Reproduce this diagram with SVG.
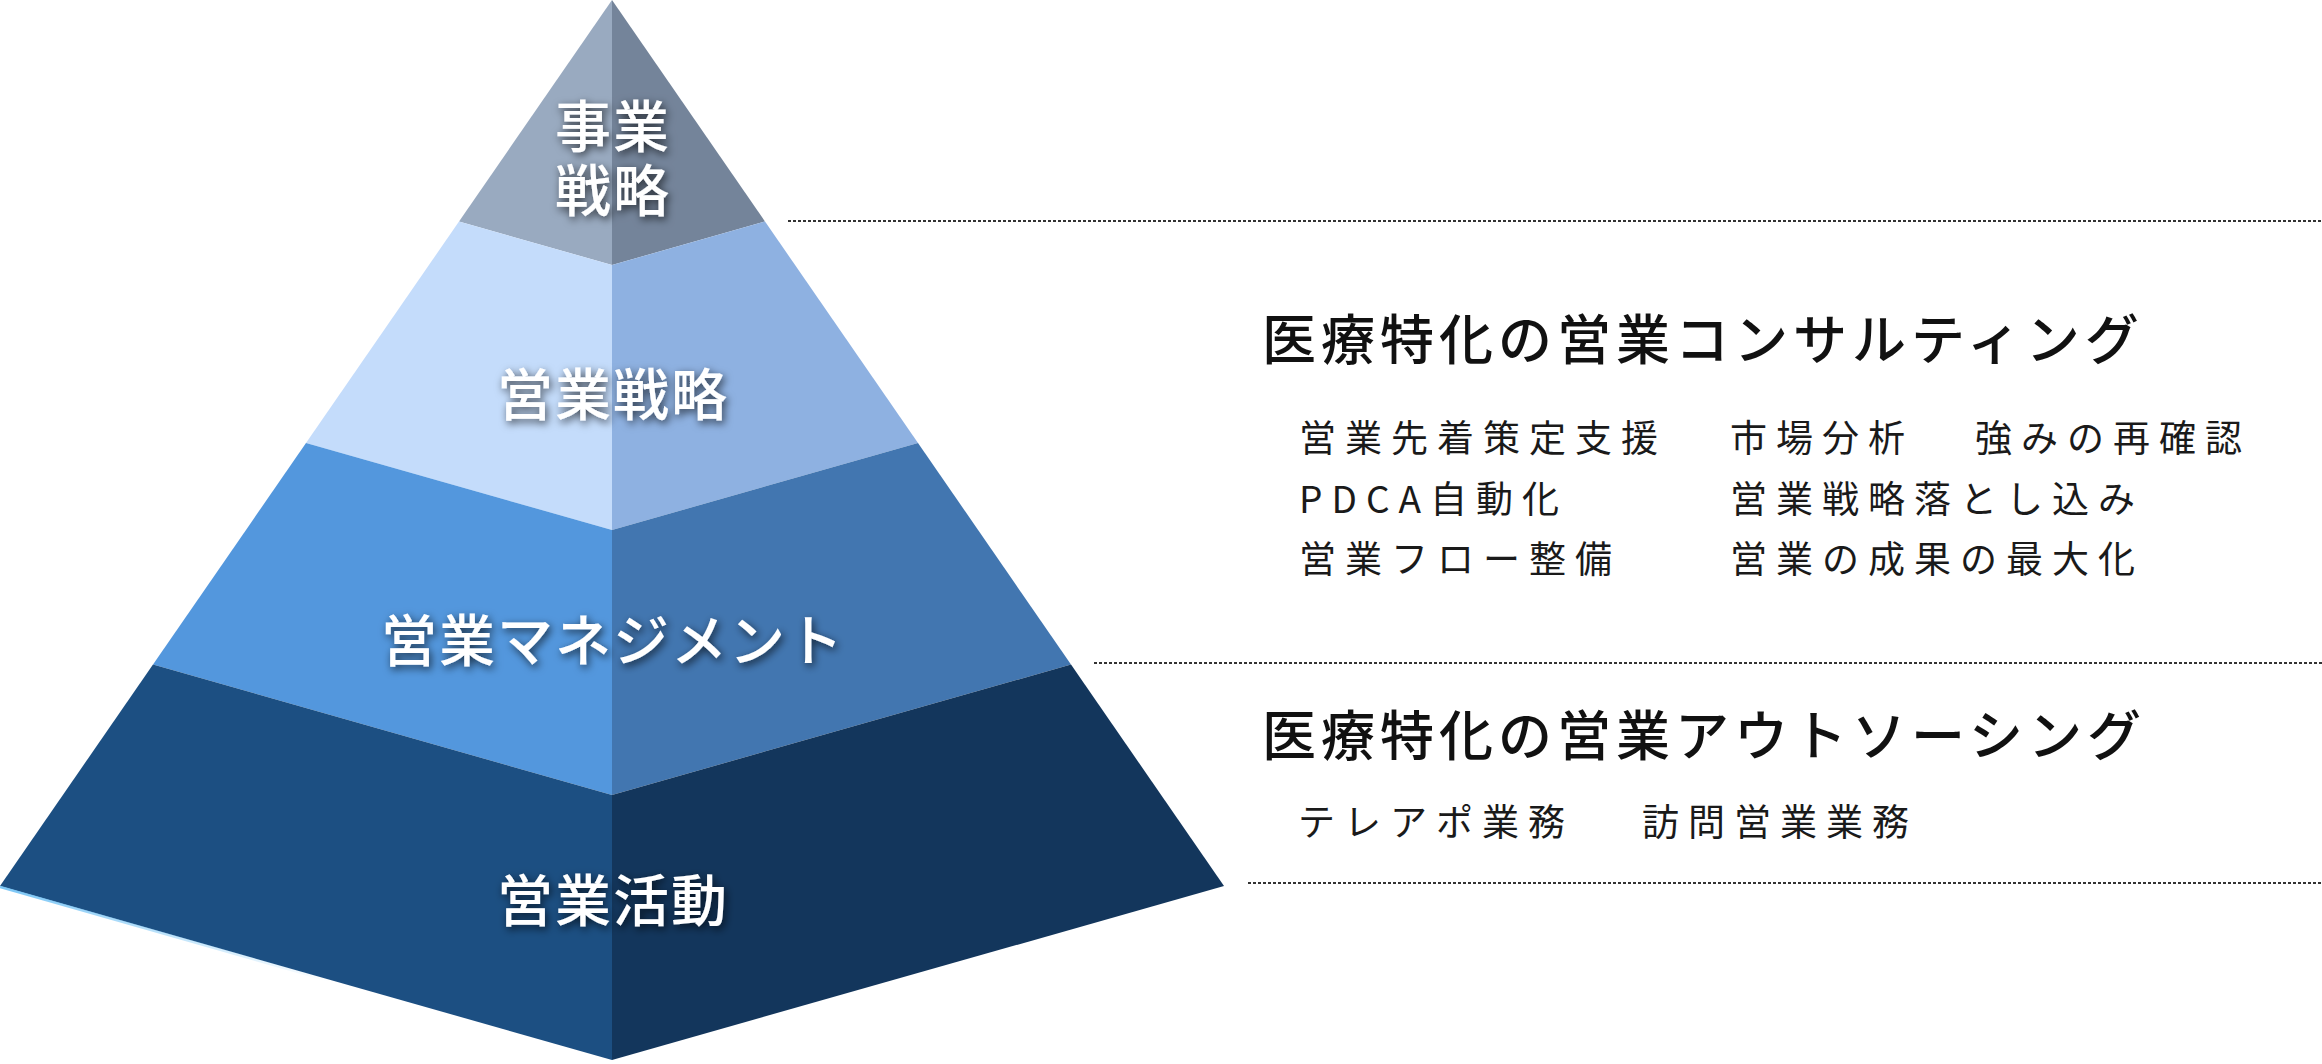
<svg xmlns="http://www.w3.org/2000/svg" width="2322" height="1064" viewBox="0 0 2322 1064">
  <defs>
    <filter id="shadow" x="-20%" y="-40%" width="140%" height="180%">
      <feDropShadow dx="2" dy="3" stdDeviation="4" flood-color="#000" flood-opacity="0.7"/>
    </filter>
    <linearGradient id="edgeGlow" x1="0" y1="0" x2="1" y2="0">
      <stop offset="0" stop-color="#6cc0f5" stop-opacity="0.9"/>
      <stop offset="1" stop-color="#6cc0f5" stop-opacity="0"/>
    </linearGradient>
  </defs>
  <style>
    .lbl { font-family: "Noto Sans CJK JP", "Noto Sans", sans-serif; font-size: 56px; font-weight: 500; fill: #ffffff; text-anchor: middle; letter-spacing: 2px; }
    .head { font-family: "Noto Sans CJK JP", "Noto Sans", sans-serif; font-size: 54px; font-weight: 500; fill: #111111; letter-spacing: 5px; }
    .item { font-family: "Noto Sans CJK JP", "Noto Sans", sans-serif; font-size: 37px; font-weight: 400; fill: #1a1a1a; letter-spacing: 9px; }
    .dot { stroke: #333333; stroke-width: 2; stroke-dasharray: 3 2; fill: none; }
  </style>
  <rect width="2322" height="1064" fill="#ffffff"/>

  <g id="tier-business-strategy">
    <polygon points="612,0 459,221.5 612,265" fill="#99AAC0"/>
    <polygon points="612,0 765,221.5 612,265" fill="#74849A"/>
    <text class="lbl" filter="url(#shadow)"><tspan x="613" y="147">事業</tspan><tspan x="613" y="211">戦略</tspan></text>
  </g>

  <g id="tier-sales-strategy">
    <polygon points="459,221.5 306,443 612,530 612,265" fill="#C4DCFB"/>
    <polygon points="765,221.5 918,443 612,530 612,265" fill="#8EB1E1"/>
    <text class="lbl" x="613" y="415" filter="url(#shadow)">営業戦略</text>
  </g>

  <g id="tier-sales-management">
    <polygon points="306,443 153,664.5 612,795 612,530" fill="#5397DD"/>
    <polygon points="918,443 1071,664.5 612,795 612,530" fill="#4276B0"/>
    <text class="lbl" x="613" y="661" filter="url(#shadow)">営業マネジメント</text>
  </g>

  <g id="tier-sales-activity">
    <polygon points="153,664.5 0,886 612,1060 612,795" fill="#1C4F82"/>
    <polygon points="1071,664.5 1224,886 612,1060 612,795" fill="#13365C"/>
    <line x1="0" y1="887" x2="330" y2="981" stroke="url(#edgeGlow)" stroke-width="2.5"/>
    <text class="lbl" x="613" y="921" filter="url(#shadow)">営業活動</text>
  </g>

  <g id="connectors">
    <line class="dot" x1="788" y1="221" x2="2322" y2="221"/>
    <line class="dot" x1="1094" y1="663" x2="2322" y2="663"/>
    <line class="dot" x1="1248" y1="883" x2="2322" y2="883"/>
  </g>

  <g id="consulting">
    <text class="head" x="1262" y="360">医療特化の営業コンサルティング</text>
    <text class="item" x="1299" y="452">営業先着策定支援</text>
    <text class="item" x="1730" y="452">市場分析</text>
    <text class="item" x="1975" y="452">強みの再確認</text>
    <text class="item" x="1299" y="513">PDCA自動化</text>
    <text class="item" x="1730" y="513">営業戦略落とし込み</text>
    <text class="item" x="1299" y="573">営業フロー整備</text>
    <text class="item" x="1730" y="573">営業の成果の最大化</text>
  </g>

  <g id="outsourcing">
    <text class="head" x="1262" y="756">医療特化の営業アウトソーシング</text>
    <text class="item" x="1298" y="836">テレアポ業務</text>
    <text class="item" x="1642" y="836">訪問営業業務</text>
  </g>
</svg>
